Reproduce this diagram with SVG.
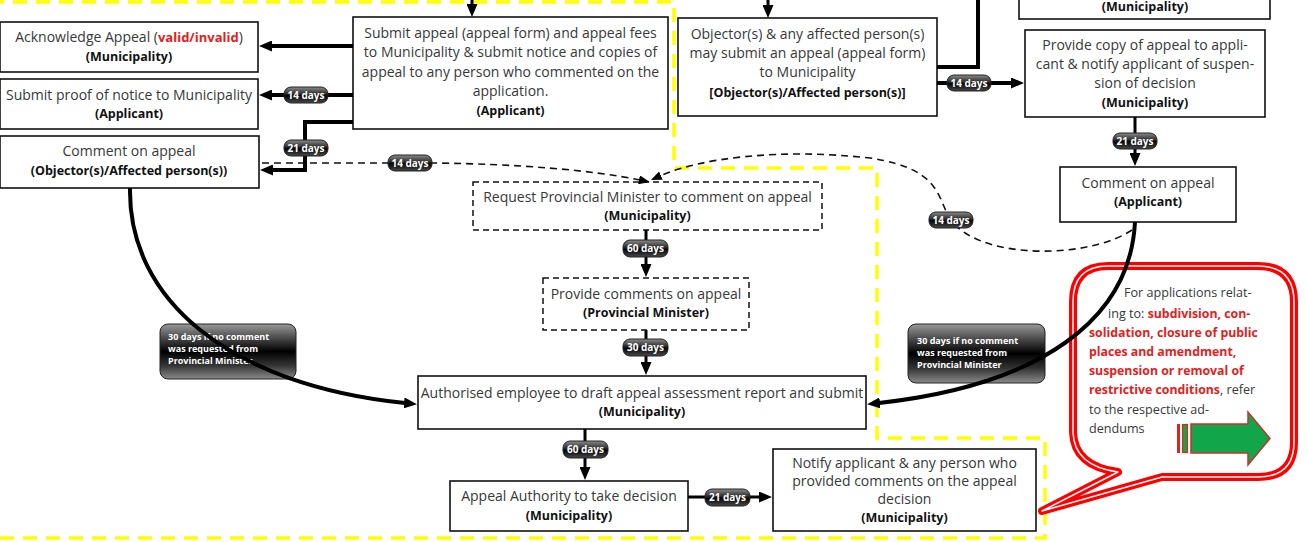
<svg xmlns="http://www.w3.org/2000/svg" width="1307" height="542" viewBox="0 0 1307 542">
<defs>
<linearGradient id="bg" x1="0" y1="0" x2="0" y2="1">
<stop offset="0" stop-color="#8c8c8c"/><stop offset="0.4" stop-color="#333"/><stop offset="0.55" stop-color="#050505"/><stop offset="1" stop-color="#4a4a4a"/>
</linearGradient>
<linearGradient id="bg2" x1="0" y1="0" x2="0" y2="1">
<stop offset="0" stop-color="#9a9a9a"/><stop offset="0.3" stop-color="#3c3c3c"/><stop offset="0.5" stop-color="#000"/><stop offset="0.75" stop-color="#333"/><stop offset="1" stop-color="#8a8a8a"/>
</linearGradient>
<marker id="ah" markerUnits="userSpaceOnUse" markerWidth="13" markerHeight="11" viewBox="0 0 13 11" refX="1" refY="5.5" orient="auto"><path d="M0,0 L13,5.5 L0,11 z" fill="#000"/></marker>
<marker id="ahs" markerUnits="userSpaceOnUse" markerWidth="11" markerHeight="9" viewBox="0 0 11 9" refX="1" refY="4.5" orient="auto"><path d="M0,0 L11,4.5 L0,9 z" fill="#000"/></marker>
</defs>
<style>
.box{fill:#fff;stroke:#111;stroke-width:1.6}
.dbox{fill:#fff;stroke:#111;stroke-width:1.5;stroke-dasharray:6 4}
.t{font-family:"Open Sans","DejaVu Sans",sans-serif;font-size:14px;fill:#383838;text-anchor:middle}
.b{font-family:"Open Sans","DejaVu Sans",sans-serif;font-size:12.5px;font-weight:bold;fill:#111;text-anchor:middle}
.r{font-weight:bold;fill:#e3211c}
.c{fill:none;stroke:#000;stroke-width:4;marker-end:url(#ah)}
.cn{fill:none;stroke:#000;stroke-width:4}
.c3{fill:none;stroke:#000;stroke-width:3;marker-end:url(#ah)}
.d{fill:none;stroke:#111;stroke-width:1.6;stroke-dasharray:7 5;marker-end:url(#ahs)}
.bd{fill:url(#bg);stroke:#222;stroke-width:1}
.bd2{fill:url(#bg2);stroke:#222;stroke-width:1}
.bt{font-family:"Open Sans","DejaVu Sans",sans-serif;font-size:10px;font-weight:bold;fill:#fff;text-anchor:middle}
.bt2{font-family:"Open Sans","DejaVu Sans",sans-serif;font-size:9px;font-weight:bold;fill:#fff}
.yl{fill:none;stroke:#ffff00;stroke-width:3.5;stroke-dasharray:14 9}
.ct{font-family:"Open Sans","DejaVu Sans",sans-serif;font-size:12.6px;fill:#383838}
.cr{font-weight:bold;fill:#e3211c;font-size:12.3px}
</style>

<path class="yl" d="M0,538 H1045 V438 H877 V168 H674 V2 H0"/>

<g id="callout">
<path d="M1108,266 H1258 Q1294,266 1294,302 V442 Q1294,477 1258,477 H1162 L1042,511 L1118,472 Q1074,466 1073,432 V302 Q1073,266 1108,266 Z" fill="#fff" stroke="#ff0000" stroke-width="8" stroke-linejoin="round"/>
<path d="M1108,266 H1258 Q1294,266 1294,302 V442 Q1294,477 1258,477 H1162 L1042,511 L1118,472 Q1074,466 1073,432 V302 Q1073,266 1108,266 Z" fill="none" stroke="#fff" stroke-width="1.5" stroke-linejoin="round"/>
<text class="ct" x="1124" y="297">For applications relat-</text>
<text class="ct" x="1108" y="318">ing to: <tspan class="cr">subdivision, con-</tspan></text>
<text class="ct" x="1089" y="337"><tspan class="cr">solidation, closure of public</tspan></text>
<text class="ct" x="1089" y="356"><tspan class="cr">places and amendment,</tspan></text>
<text class="ct" x="1089" y="375"><tspan class="cr">suspension or removal of</tspan></text>
<text class="ct" x="1089" y="394"><tspan class="cr">restrictive conditions</tspan>, refer</text>
<text class="ct" x="1089" y="414">to the respective ad-</text>
<text class="ct" x="1089" y="433">dendums</text>
<rect x="1177" y="424" width="3" height="29" fill="#e3211c"/>
<rect x="1182.5" y="424.5" width="5" height="28" fill="#12a64b" stroke="#e3211c" stroke-width="1.2"/>
<polygon points="1191,424 1248,424 1248,412 1270,438.5 1248,465 1248,453 1191,453" fill="#12a64b" stroke="#c8302a" stroke-width="1.5"/>
</g>

<g id="n-topright"><rect class="box" x="1019" y="-10" width="251" height="29"/><text class="b" x="1145" y="11">(Municipality)</text></g>

<g id="n-ack"><rect class="box" x="0" y="22" width="258" height="50"/>
<text class="t" x="129" y="42">Acknowledge Appeal (<tspan class="r" font-size="13">valid/invalid</tspan>)</text>
<text class="b" x="129" y="61">(Municipality)</text></g>

<g id="n-proof"><rect class="box" x="0" y="79" width="258" height="50"/>
<text class="t" x="129" y="100">Submit proof of notice to Municipality</text>
<text class="b" x="129" y="118">(Applicant)</text></g>

<g id="n-comobj"><rect class="box" x="0" y="136" width="259" height="52"/>
<text class="t" x="129" y="156">Comment on appeal</text>
<text class="b" x="129" y="175">(Objector(s)/Affected person(s))</text></g>

<g id="n-submit"><rect class="box" x="353" y="17" width="315" height="112"/>
<text class="t" x="510.5" y="38">Submit appeal (appeal form) and appeal fees</text>
<text class="t" x="510.5" y="57">to Municipality &amp; submit notice and copies of</text>
<text class="t" x="510.5" y="77">appeal to any person who commented on the</text>
<text class="t" x="510.5" y="96">application.</text>
<text class="b" x="510.5" y="115">(Applicant)</text></g>

<g id="n-objector"><rect class="box" x="678" y="18" width="259" height="98"/>
<text class="t" x="807.5" y="39">Objector(s) &amp; any affected person(s)</text>
<text class="t" x="807.5" y="58">may submit an appeal (appeal form)</text>
<text class="t" x="807.5" y="77">to Municipality</text>
<text class="b" x="807.5" y="97">[Objector(s)/Affected person(s)]</text></g>

<g id="n-copy"><rect class="box" x="1025" y="30" width="240" height="87"/>
<text class="t" x="1145" y="50">Provide copy of appeal to appli-</text>
<text class="t" x="1145" y="69">cant &amp; notify applicant of suspen-</text>
<text class="t" x="1145" y="88">sion of decision</text>
<text class="b" x="1145" y="107">(Municipality)</text></g>

<g id="n-comapp"><rect class="box" x="1060" y="167" width="176" height="55"/>
<text class="t" x="1148" y="188">Comment on appeal</text>
<text class="b" x="1148" y="206">(Applicant)</text></g>

<g id="n-request"><rect class="dbox" x="473" y="182" width="349" height="48"/>
<text class="t" x="647.5" y="202">Request Provincial Minister to comment on appeal</text>
<text class="b" x="647.5" y="220">(Municipality)</text></g>

<g id="n-provide"><rect class="dbox" x="543" y="278" width="206" height="52"/>
<text class="t" x="646" y="299">Provide comments on appeal</text>
<text class="b" x="646" y="317">(Provincial Minister)</text></g>

<g id="n-auth"><rect class="box" x="418" y="376" width="448" height="53"/>
<text class="t" x="642" y="398" font-size="13.7">Authorised employee to draft appeal assessment report and submit</text>
<text class="b" x="642" y="416">(Municipality)</text></g>

<g id="n-decision"><rect class="box" x="450" y="481" width="238" height="50"/>
<text class="t" x="569" y="501">Appeal Authority to take decision</text>
<text class="b" x="569" y="520">(Municipality)</text></g>

<g id="n-notify"><rect class="box" x="773" y="449" width="263" height="82"/>
<text class="t" x="904.5" y="468">Notify applicant &amp; any person who</text>
<text class="t" x="904.5" y="486">provided comments on the appeal</text>
<text class="t" x="904.5" y="504">decision</text>
<text class="b" x="904.5" y="522">(Municipality)</text></g>

<g id="connectors">
<rect class="bd2" x="160" y="324" width="136" height="55" rx="8"/>
<text class="bt2" x="168" y="340">30 days if no comment</text>
<text class="bt2" x="168" y="352">was requested from</text>
<text class="bt2" x="168" y="364">Provincial Minister</text>
<rect class="bd2" x="908" y="324" width="137" height="59" rx="8"/>
<text class="bt2" x="917" y="344">30 days if no comment</text>
<text class="bt2" x="917" y="356">was requested from</text>
<text class="bt2" x="917" y="368">Provincial Minister</text>

<path class="c3" d="M472,0 V5"/>
<path class="c3" d="M768,0 V6"/>
<path class="c" d="M353,46 H271"/>
<path class="c" d="M353,95 H271"/>
<path class="c" d="M353,122 H305 V170 H272"/>
<path class="cn" d="M937,67 H978 V0"/>
<path class="c" d="M937,83 H1012"/>
<path class="c3" d="M1135,117 V154"/>
<path class="c3" d="M646,230 V265"/>
<path class="c3" d="M646,330 V363"/>
<path class="c3" d="M585,429 V468"/>
<path class="c3" d="M688,497 H760"/>
<path class="c" d="M130,188 C128,300 230,385 405,403"/>
<path class="c" d="M1135,222 C1130,320 1040,385 879,403"/>
<path class="d" d="M262,163 H432 C520,164 590,170 640,180"/>
<path class="d" d="M1132,230 C1090,258 990,260 955,225 C935,205 950,170 870,158 C780,148 700,158 660,176"/>

<rect class="bd" x="284" y="87" width="44" height="16" rx="7"/><text class="bt" x="306" y="98.5">14 days</text>
<rect class="bd" x="284" y="140" width="44" height="16" rx="7"/><text class="bt" x="306" y="151.5">21 days</text>
<rect class="bd" x="388" y="155" width="44" height="16" rx="7"/><text class="bt" x="410" y="166.5">14 days</text>
<rect class="bd" x="947" y="75" width="44" height="16" rx="7"/><text class="bt" x="969" y="86.5">14 days</text>
<rect class="bd" x="1113" y="133" width="44" height="16" rx="7"/><text class="bt" x="1135" y="144.5">21 days</text>
<rect class="bd" x="929" y="212" width="44" height="16" rx="7"/><text class="bt" x="951" y="223.5">14 days</text>
<rect class="bd" x="623" y="240" width="45" height="17" rx="7"/><text class="bt" x="645.5" y="252">60 days</text>
<rect class="bd" x="623" y="339" width="45" height="17" rx="7"/><text class="bt" x="645.5" y="351">30 days</text>
<rect class="bd" x="563" y="441" width="45" height="17" rx="7"/><text class="bt" x="585.5" y="453">60 days</text>
<rect class="bd" x="705" y="489" width="45" height="17" rx="7"/><text class="bt" x="727.5" y="501">21 days</text>
</g>
</svg>
